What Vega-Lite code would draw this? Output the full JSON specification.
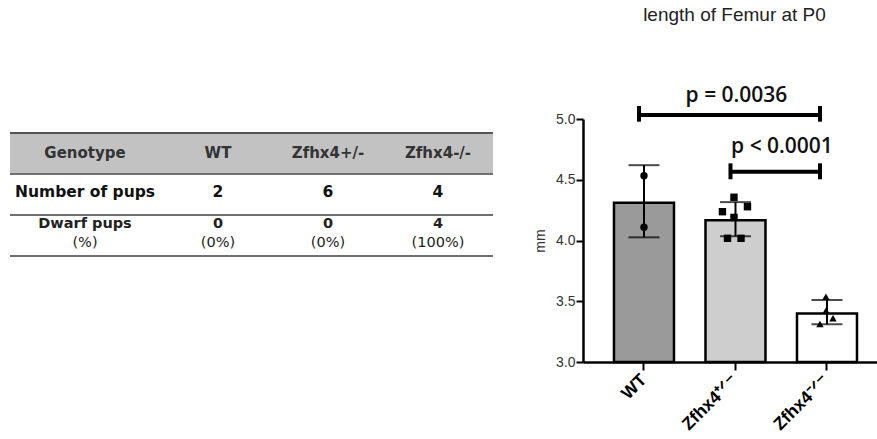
{
  "$schema": "https://vega.github.io/schema/vega-lite/v6.json",
  "background": "white",
  "padding": {"left": 9, "top": 5, "right": 0, "bottom": 0},
  "config": {"view": {"stroke": null}, "font": "Liberation Sans"},
  "bounds": "flush",
  "spacing": 90,
  "datasets": {
    "cells": [
      {"row": "Genotype", "col": "label", "main": "Genotype", "sub": ""},
      {"row": "Genotype", "col": "WT", "main": "WT", "sub": ""},
      {"row": "Genotype", "col": "Zfhx4+/-", "main": "Zfhx4+/-", "sub": ""},
      {"row": "Genotype", "col": "Zfhx4-/-", "main": "Zfhx4-/-", "sub": ""},
      {"row": "Number of pups", "col": "label", "main": "Number of pups", "sub": ""},
      {"row": "Number of pups", "col": "WT", "main": "2", "sub": ""},
      {"row": "Number of pups", "col": "Zfhx4+/-", "main": "6", "sub": ""},
      {"row": "Number of pups", "col": "Zfhx4-/-", "main": "4", "sub": ""},
      {"row": "Dwarf pups", "col": "label", "main": "Dwarf pups", "sub": "(%)"},
      {"row": "Dwarf pups", "col": "WT", "main": "0", "sub": "(0%)"},
      {"row": "Dwarf pups", "col": "Zfhx4+/-", "main": "0", "sub": "(0%)"},
      {"row": "Dwarf pups", "col": "Zfhx4-/-", "main": "4", "sub": "(100%)"}
    ],
    "summary": [
      {"g": "WT", "mean": 4.31, "lo": 4.026, "hi": 4.62},
      {"g": "Zfhx4+/-", "mean": 4.166, "lo": 4.035, "hi": 4.316},
      {"g": "Zfhx4-/-", "mean": 3.40, "lo": 3.31, "hi": 3.51}
    ],
    "pts": [
      {"g": "WT", "v": 4.533, "jit": 0},
      {"g": "WT", "v": 4.11, "jit": 0},
      {"g": "Zfhx4+/-", "v": 4.356, "jit": -0.1},
      {"g": "Zfhx4+/-", "v": 4.237, "jit": -0.87},
      {"g": "Zfhx4+/-", "v": 4.278, "jit": 0.8},
      {"g": "Zfhx4+/-", "v": 4.19, "jit": -0.1},
      {"g": "Zfhx4+/-", "v": 4.018, "jit": -0.53},
      {"g": "Zfhx4+/-", "v": 4.018, "jit": 0.37},
      {"g": "Zfhx4-/-", "v": 3.537, "jit": -0.07},
      {"g": "Zfhx4-/-", "v": 3.422, "jit": -0.07},
      {"g": "Zfhx4-/-", "v": 3.36, "jit": 0.4},
      {"g": "Zfhx4-/-", "v": 3.313, "jit": -0.47}
    ],
    "brackets": [
      {"from": "WT", "to": "Zfhx4-/-", "y": 5.033, "capLo": 4.978, "capHi": 5.107, "label": "p = 0.0036", "labelY": 5.142},
      {"from": "Zfhx4+/-", "to": "Zfhx4-/-", "y": 4.566, "capLo": 4.504, "capHi": 4.635, "label": "p < 0.0001", "labelY": 4.718}
    ]
  },
  "hconcat": [
    {
      "width": 483,
      "height": 137,
      "data": {"name": "cells"},
      "encoding": {
        "y": {"field": "row", "type": "nominal", "axis": null,
              "scale": {"type": "band", "domain": ["Genotype", "Number of pups", "Dwarf pups"], "paddingInner": 0, "paddingOuter": 0.1707, "align": 1}},
        "x": {"field": "col", "type": "nominal", "axis": null,
              "scale": {"type": "band", "domain": ["label", "WT", "Zfhx4+/-", "Zfhx4-/-"], "paddingInner": 0, "paddingOuter": 0.1955, "align": 1}}
      },
      "layer": [
        {
          "transform": [{"filter": "datum.row == 'Genotype' && datum.col == 'label'"}],
          "mark": {"type": "rect", "fill": "#c2c2c2"},
          "encoding": {"x": null}
        },
        {
          "transform": [{"filter": "datum.col == 'label'"}],
          "mark": {"type": "rule", "stroke": "#707070", "strokeWidth": 2},
          "encoding": {"x": null, "y": {"field": "row", "type": "nominal", "bandPosition": 1}}
        },
        {
          "transform": [{"filter": "datum.row == 'Genotype' && datum.col == 'label'"}],
          "mark": {"type": "rule", "stroke": "#555555", "strokeWidth": 2},
          "encoding": {"x": null, "y": {"field": "row", "type": "nominal", "bandPosition": 0}}
        },
        {
          "transform": [{"filter": "datum.row == 'Genotype' && datum.col == 'label'"}],
          "mark": {"type": "text", "font": "DejaVu Sans", "fontWeight": "bold", "fontSize": 15, "color": "#333333", "baseline": "middle", "dx": -23},
          "encoding": {"text": {"field": "main"}}
        },
        {
          "transform": [{"filter": "datum.row == 'Genotype' && datum.col != 'label'"}],
          "mark": {"type": "text", "font": "DejaVu Sans", "fontWeight": "bold", "fontSize": 15, "color": "#333333", "baseline": "middle"},
          "encoding": {"text": {"field": "main"}}
        },
        {
          "transform": [{"filter": "datum.row == 'Number of pups' && datum.col == 'label'"}],
          "mark": {"type": "text", "font": "DejaVu Sans", "fontWeight": "bold", "fontSize": 15.5, "color": "#111111", "baseline": "middle", "dy": -2.5, "dx": -23},
          "encoding": {"text": {"field": "main"}}
        },
        {
          "transform": [{"filter": "datum.row == 'Number of pups' && datum.col != 'label'"}],
          "mark": {"type": "text", "font": "DejaVu Sans", "fontWeight": "bold", "fontSize": 15.5, "color": "#111111", "baseline": "middle", "dy": -2.5},
          "encoding": {"text": {"field": "main"}}
        },
        {
          "transform": [{"filter": "datum.row == 'Dwarf pups' && datum.col == 'label'"}],
          "mark": {"type": "text", "font": "DejaVu Sans", "fontWeight": "bold", "fontSize": 14.5, "color": "#222222", "baseline": "middle", "dy": -11.5, "dx": -23},
          "encoding": {"text": {"field": "main"}}
        },
        {
          "transform": [{"filter": "datum.row == 'Dwarf pups' && datum.col != 'label'"}],
          "mark": {"type": "text", "font": "DejaVu Sans", "fontWeight": "bold", "fontSize": 14.5, "color": "#222222", "baseline": "middle", "dy": -11.5},
          "encoding": {"text": {"field": "main"}}
        },
        {
          "transform": [{"filter": "datum.row == 'Dwarf pups' && datum.col == 'label'"}],
          "mark": {"type": "text", "font": "DejaVu Sans", "fontWeight": "normal", "fontSize": 14.5, "color": "#222222", "baseline": "middle", "dy": 7.5, "dx": -23},
          "encoding": {"text": {"field": "sub"}}
        },
        {
          "transform": [{"filter": "datum.row == 'Dwarf pups' && datum.col != 'label'"}],
          "mark": {"type": "text", "font": "DejaVu Sans", "fontWeight": "normal", "fontSize": 14.5, "color": "#222222", "baseline": "middle", "dy": 7.5},
          "encoding": {"text": {"field": "sub"}}
        }
      ]
    },
    {
      "width": 295,
      "height": 243,
      "title": {"text": "length of Femur at P0", "font": "Liberation Sans", "fontSize": 19, "fontWeight": "normal", "color": "#222222", "offset": 60, "dx": 4},
      "encoding": {
        "x": {"type": "nominal",
              "scale": {"domain": ["WT", "Zfhx4+/-", "Zfhx4-/-"], "paddingInner": 0.344, "paddingOuter": 0.284, "align": 0.596},
              "axis": {"title": null, "labelAngle": -45, "labelAlign": "right", "labelBaseline": "middle", "labelFont": "Liberation Sans", "labelFontWeight": "bold", "labelFontSize": 17.5, "labelColor": "#000000", "labelPadding": 7, "tickSize": 8, "tickWidth": 2, "tickColor": "#000000", "domainColor": "#000000", "domainWidth": 2.5,
                       "labelExpr": "datum.value == 'Zfhx4+/-' ? 'Zfhx4⁺ᐟ⁻' : (datum.value == 'Zfhx4-/-' ? 'Zfhx4⁻ᐟ⁻' : datum.value)"}},
        "y": {"type": "quantitative",
              "scale": {"domain": [3, 5], "nice": false, "zero": false},
              "axis": {"title": "mm", "values": [3, 3.5, 4, 4.5, 5], "format": ".1f", "grid": false, "labelFont": "Liberation Sans", "labelFontSize": 14, "labelColor": "#333333", "labelPadding": 1, "tickSize": 7, "tickWidth": 2, "tickColor": "#000000", "domainColor": "#000000", "domainWidth": 2.5, "titleFont": "Liberation Sans", "titleFontSize": 14, "titleFontWeight": "normal", "titleColor": "#333333", "titlePadding": 8}}
      },
      "layer": [
        {
          "data": {"name": "summary"},
          "mark": {"type": "bar", "stroke": "#000000", "strokeWidth": 2.5, "width": 60},
          "encoding": {
            "x": {"field": "g"},
            "y": {"field": "mean"},
            "y2": {"datum": 3},
            "fill": {"field": "g", "type": "nominal", "legend": null,
                     "scale": {"domain": ["WT", "Zfhx4+/-", "Zfhx4-/-"], "range": ["#9a9a9a", "#cecece", "#ffffff"]}}
          }
        },
        {
          "data": {"name": "summary"},
          "mark": {"type": "rule", "color": "#000000", "strokeWidth": 2},
          "encoding": {"x": {"field": "g"}, "y": {"field": "lo"}, "y2": {"field": "hi"}}
        },
        {
          "data": {"name": "summary"},
          "mark": {"type": "tick", "color": "#000000", "size": 31, "thickness": 2},
          "encoding": {"x": {"field": "g"}, "y": {"field": "hi"}}
        },
        {
          "data": {"name": "summary"},
          "mark": {"type": "tick", "color": "#000000", "size": 31, "thickness": 2},
          "encoding": {"x": {"field": "g"}, "y": {"field": "lo"}}
        },
        {
          "data": {"name": "pts"},
          "mark": {"type": "point", "filled": true, "color": "#000000", "opacity": 1, "size": 55},
          "encoding": {
            "x": {"field": "g"},
            "y": {"field": "v"},
            "xOffset": {"field": "jit", "type": "quantitative", "scale": {"domain": [-1, 1], "range": [15, 45]}},
            "shape": {"field": "g", "type": "nominal", "legend": null,
                      "scale": {"domain": ["WT", "Zfhx4+/-", "Zfhx4-/-"], "range": ["circle", "square", "triangle-up"]}}
          }
        },
        {
          "data": {"name": "brackets"},
          "mark": {"type": "rule", "color": "#000000", "strokeWidth": 4, "xOffset": -5, "x2Offset": -7},
          "encoding": {"x": {"field": "from"}, "x2": {"field": "to"}, "y": {"field": "y"}}
        },
        {
          "data": {"name": "brackets"},
          "mark": {"type": "rule", "color": "#000000", "strokeWidth": 4, "xOffset": -5},
          "encoding": {"x": {"field": "from"}, "y": {"field": "capLo"}, "y2": {"field": "capHi"}}
        },
        {
          "data": {"name": "brackets"},
          "mark": {"type": "rule", "color": "#000000", "strokeWidth": 4, "xOffset": -7},
          "encoding": {"x": {"field": "to"}, "y": {"field": "capLo"}, "y2": {"field": "capHi"}}
        },
        {
          "data": {"name": "brackets"},
          "transform": [{"filter": "datum.from == 'WT'"}],
          "mark": {"type": "text", "font": "Open Sans", "fontWeight": 600, "fontSize": 21, "color": "#111111", "baseline": "alphabetic", "dx": -90.5},
          "encoding": {"x": {"field": "to"}, "y": {"field": "labelY"}, "text": {"field": "label"}}
        },
        {
          "data": {"name": "brackets"},
          "transform": [{"filter": "datum.from != 'WT'"}],
          "mark": {"type": "text", "font": "Open Sans", "fontWeight": 600, "fontSize": 21, "color": "#111111", "baseline": "alphabetic", "dx": -45},
          "encoding": {"x": {"field": "to"}, "y": {"field": "labelY"}, "text": {"field": "label"}}
        }
      ]
    }
  ]
}
